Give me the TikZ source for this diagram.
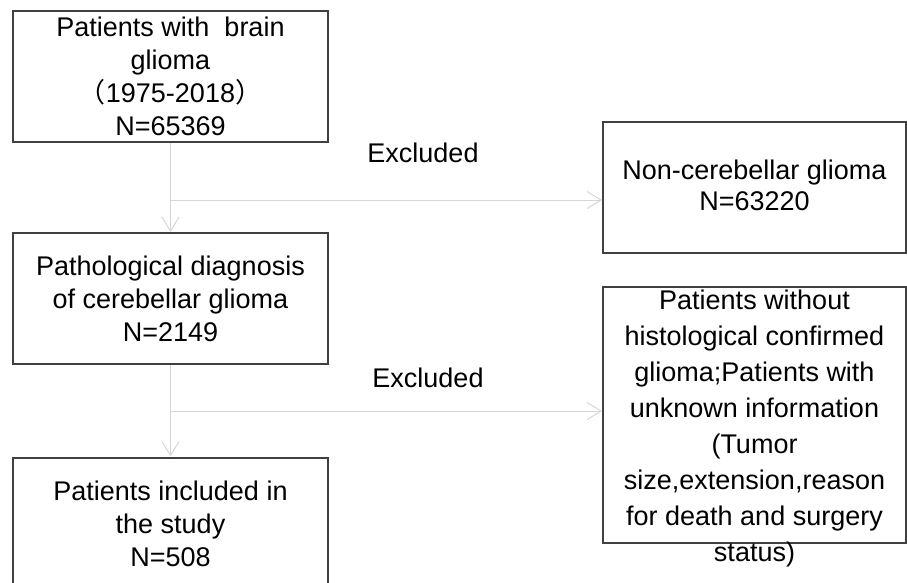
\documentclass[tikz,border=0pt]{standalone}
\usepackage{fontspec}
\setmainfont{Liberation Sans}
\newfontfamily\cjk{Noto Sans CJK SC}
\usetikzlibrary{arrows.meta}

\definecolor{boxgray}{HTML}{404040}
\definecolor{flowgray}{HTML}{D6D6D6}

% text lines of a box, allowed to run over its frame
\newcommand{\flowtext}[2][-10pt]{\smash{\raisebox{#1}{\begin{tabular}{@{}c@{}}#2\end{tabular}}}}

\tikzset{
	leftbox/.style={draw=boxgray, line width=2pt, inner sep=0pt, minimum width=315pt, minimum height=131pt, font=\fontsize{27}{33}\selectfont},
	rightbox/.style={draw=boxgray, line width=2pt, inner sep=0pt, minimum width=303pt, font=\fontsize{27}{36}\selectfont},
	flow/.style={draw=flowgray, line width=1pt, -{Straight Barb[length=14pt, width=17pt, line width=1pt]}},
	excl/.style={font=\fontsize{27}{33}\selectfont, inner sep=0pt}
}

\begin{document}
\begin{tikzpicture}[x=1pt, y=-1pt]
	\useasboundingbox (0,0) rectangle (907,582);
	\node[leftbox] (brain) at (170.5, 76) {\flowtext{Patients with\ \ brain\\glioma\\{\cjk （}1975-2018{\cjk ）}\\N=65369}};
	\node[leftbox] (cereb) at (170.5, 298.5) {\flowtext{Pathological diagnosis\\of cerebellar glioma\\N=2149}};
	\node[leftbox] (study) at (170.5, 523) {\flowtext{Patients included in\\the study\\N=508}};
	\node[rightbox, minimum height=131pt, font=\fontsize{27}{31}\selectfont] (noncereb) at (754.5, 187.5) {\flowtext[-8pt]{Non-cerebellar glioma\\N=63220}};
	\node[rightbox, minimum height=256pt] (nohisto) at (754.5, 415) {\flowtext[-20pt]{Patients without\\histological confirmed\\glioma;Patients with\\unknown information\\(Tumor\\size,extension,reason\\for death and surgery\\status)}};
	\node[excl] (excl1) at (423, 153) {Excluded};
	\node[excl] (excl2) at (428, 378) {Excluded};
	\coordinate (split1) at (170.5, 200);
	\coordinate (split2) at (170.5, 411);
	\draw[flow] (brain) to (cereb);
	\draw[flow] (cereb) to (study);
	\draw[flow] (split1) to (split1 -| noncereb.west);
	\draw[flow] (split2) to (split2 -| nohisto.west);
\end{tikzpicture}
\end{document}
